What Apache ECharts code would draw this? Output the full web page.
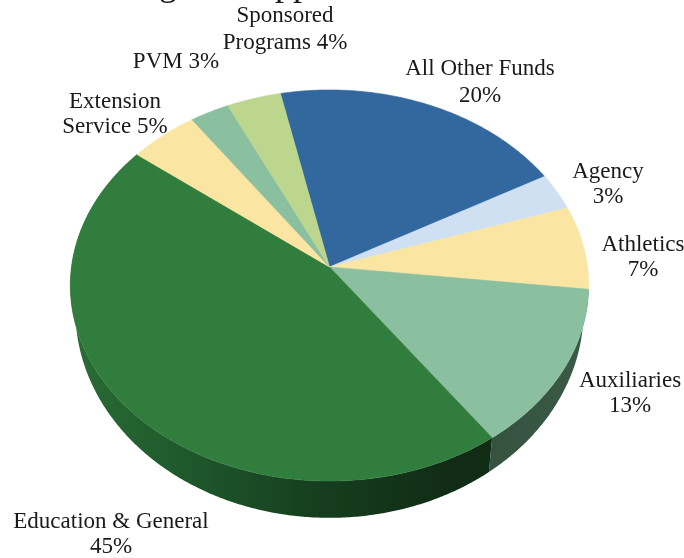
<!DOCTYPE html>
<html><head><meta charset="utf-8">
<style>html,body{margin:0;padding:0;background:#fff}#c{width:684px;height:558px}</style>
<script src="https://cdn.jsdelivr.net/npm/echarts@6/dist/echarts.min.js"></script>
</head><body><div id="c"></div>
<script>
// Data, clockwise from the top
const categories = ['All Other Funds','Agency','Athletics','Auxiliaries','Education & General','Extension Service','PVM','Sponsored Programs'];
const shares = [20.2, 3.05, 6.9, 13.3, 45.4, 4.75, 2.7, 3.7];
const labelFirstLines = ['All Other Funds','Agency','Athletics','Auxiliaries','Education & General','Extension','','Sponsored'];
const labelSecondPrefix = ['','','','','','Service ','PVM ','Programs '];
const chartTitle = 'Funding for Support';

// Styling and layout
const faceColors = ['#33689f','#cee0f1','#fbe5a3','#8abf9f','#317d3d','#fbe5a3','#8abf9f','#bdd68e'];
const sideStops = {
  3: [[0,'#35523f'],[1,'#3a5b46']],
  4: [[0,'#2b6c37'],[0.25,'#1f5a2c'],[0.6,'#153d1e'],[0.9,'#112c15'],[1,'#112c15']]
};
const labelCentres = [[480,82],[608,184],[643,257],[630,393],[111,534],[115,114],[176,62],[285,29]];
const labelLineHeights = [27,25,25,25,25,25,25,27];
const START = -102;           // first boundary, degrees clockwise from east
const K = 0.0946;             // perspective strength
const topDisc = {cx:329.5, cy:267, r:258, rs:193.8};
const lowDisc = {cx:329.5, cy:291.4, r:252.9, rs:205};

const total = shares.reduce((a,b)=>a+b,0);
function bounds(i){
  let before = 0;
  for (let j=0;j<i;j++) before += shares[j];
  return [START + before/total*360, START + (before+shares[i])/total*360];
}
function proj(d, deg){
  const t = deg*Math.PI/180, den = 1 - K*Math.sin(t);
  return [d.cx + d.r*Math.cos(t)/den, d.cy + d.rs*Math.sin(t)/den];
}
function arc(d, a, b){
  const n = Math.max(2, Math.ceil(Math.abs(b-a)*2)), pts = [];
  for (let i=0;i<=n;i++) pts.push(proj(d, a+(b-a)*i/n));
  return pts;
}
const seriesData = categories.map((name,i)=>({name, value:shares[i]}));

function renderFace(params){
  const i = params.dataIndex, [a,b] = bounds(i);
  const c = faceColors[i];
  return {type:'polygon', shape:{points:[[topDisc.cx,topDisc.cy]].concat(arc(topDisc,a,b))},
    style:{fill:c, stroke:c, lineWidth:0.6}};
}
function renderSide(params){
  const i = params.dataIndex, stops = sideStops[i];
  if (!stops) return null;
  const [a,b] = bounds(i);
  const upper = arc(topDisc,a,b), lower = arc(lowDisc,a,b).reverse();
  // the arc runs right to left for Education & General, so the gradient goes left to right
  return {type:'polygon', shape:{points:upper.concat(lower)},
    style:{fill:{type:'linear', x:0, y:0, x2:1, y2:0,
      colorStops: stops.map(s=>({offset:s[0], color:s[1]}))}}};
}
function renderLabel(params){
  const i = params.dataIndex;
  const pct = Math.round(shares[i])+'%';
  const first = labelFirstLines[i], pre = labelSecondPrefix[i];
  const text = first ? first+'\n'+pre+pct : pre+pct;
  return {type:'text', x:labelCentres[i][0], y:labelCentres[i][1],
    style:{text, fill:'#1a1a1a', font:'23px "Liberation Serif"', lineHeight:labelLineHeights[i], align:'center', verticalAlign:'middle'}};
}
const chart = echarts.init(document.getElementById('c'), null, {renderer:'canvas'});
chart.setOption({
  animation:false,
  title:{text:chartTitle, left:52, top:-37, textStyle:{fontFamily:'Liberation Serif', fontSize:36, fontWeight:'normal', color:'#1a1a1a'}},
  series:[
    {type:'custom', coordinateSystem:'none', silent:true, z:1, data:seriesData, renderItem:renderSide},
    {type:'custom', coordinateSystem:'none', silent:true, z:2, data:seriesData, renderItem:renderFace},
    {type:'custom', coordinateSystem:'none', silent:true, z:3, data:seriesData, renderItem:renderLabel}
  ]
});
</script></body></html>
